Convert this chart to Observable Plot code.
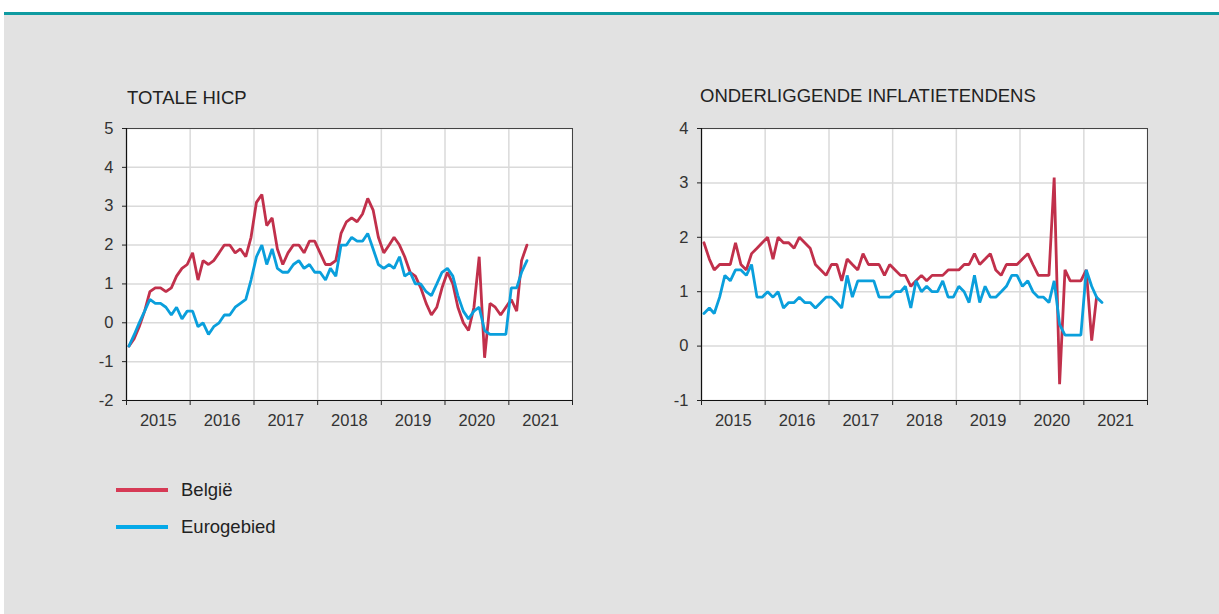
<!DOCTYPE html>
<html>
<head>
<meta charset="utf-8">
<script src="https://cdn.jsdelivr.net/npm/d3@7"></script>
<script src="https://cdn.jsdelivr.net/npm/@observablehq/plot@0.6"></script>
<style>
  html, body { margin: 0; padding: 0; background: #ffffff; width: 1219px; height: 614px; overflow: hidden; font-family: "Liberation Sans", Arial, sans-serif; }
  #panel { position: absolute; left: 4px; top: 12px; width: 1215px; height: 602px; background: #e2e2e2; border-top: 3px solid #0f9ba1; box-sizing: border-box; }
  .chart { position: absolute; }
  .title { position: absolute; font-size: 18.5px; line-height: 18px; color: #222; white-space: nowrap; }
  .leg { position: absolute; left: 116px; display: flex; align-items: center; font-size: 18.5px; color: #222; }
  .leg .sw { width: 52px; height: 4px; margin-right: 13px; }
</style>
</head>
<body>
<div id="panel"></div>
<div class="title" style="left:127px; top:89px;">TOTALE HICP</div>
<div class="title" style="left:700px; top:87px;">ONDERLIGGENDE INFLATIETENDENS</div>
<div id="left" class="chart" style="left:96px; top:118px;"></div>
<div id="right" class="chart" style="left:671px; top:118px;"></div>
<div class="leg" style="top:479px;"><div class="sw" style="background:#d63a55"></div><span>België</span></div>
<div class="leg" style="top:516px;"><div class="sw" style="background:#05a9e8"></div><span>Eurogebied</span></div>
<script>
// Monthly data, starting January 2015
const startYear = 2015;
const yearLabels = ["2015", "2016", "2017", "2018", "2019", "2020", "2021"];
const leftTicks = [-2, -1, 0, 1, 2, 3, 4, 5];
const rightTicks = [-1, 0, 1, 2, 3, 4];
const seriesNames = ["België", "Eurogebied"];

// TOTALE HICP
const belgieTotal = [
  -0.6, -0.4, -0.1, 0.3, 0.8, 0.9, 0.9, 0.8, 0.9, 1.2, 1.4, 1.5,
  1.8, 1.1, 1.6, 1.5, 1.6, 1.8, 2.0, 2.0, 1.8, 1.9, 1.7, 2.2,
  3.1, 3.3, 2.5, 2.7, 1.9, 1.5, 1.8, 2.0, 2.0, 1.8, 2.1, 2.1,
  1.8, 1.5, 1.5, 1.6, 2.3, 2.6, 2.7, 2.6, 2.8, 3.2, 2.9, 2.2,
  1.8, 2.0, 2.2, 2.0, 1.7, 1.3, 1.2, 0.9, 0.5, 0.2, 0.4, 0.9,
  1.3, 1.0, 0.4, 0.0, -0.2, 0.4, 1.7, -0.9, 0.5, 0.4, 0.2, 0.4,
  0.6, 0.3, 1.6, 2.0
];
const euroTotal = [
  -0.6, -0.3, 0.0, 0.3, 0.6, 0.5, 0.5, 0.4, 0.2, 0.4, 0.1, 0.3,
  0.3, -0.1, 0.0, -0.3, -0.1, 0.0, 0.2, 0.2, 0.4, 0.5, 0.6, 1.1,
  1.7, 2.0, 1.5, 1.9, 1.4, 1.3, 1.3, 1.5, 1.6, 1.4, 1.5, 1.3,
  1.3, 1.1, 1.4, 1.2, 2.0, 2.0, 2.2, 2.1, 2.1, 2.3, 1.9, 1.5,
  1.4, 1.5, 1.4, 1.7, 1.2, 1.3, 1.0, 1.0, 0.8, 0.7, 1.0, 1.3,
  1.4, 1.2, 0.7, 0.3, 0.1, 0.3, 0.4, -0.2, -0.3, -0.3, -0.3, -0.3,
  0.9, 0.9, 1.3, 1.6
];

// ONDERLIGGENDE INFLATIETENDENS
const belgieCore = [
  1.9, 1.6, 1.4, 1.5, 1.5, 1.5, 1.9, 1.5, 1.4, 1.7, 1.8, 1.9,
  2.0, 1.6, 2.0, 1.9, 1.9, 1.8, 2.0, 1.9, 1.8, 1.5, 1.4, 1.3,
  1.5, 1.5, 1.2, 1.6, 1.5, 1.4, 1.7, 1.5, 1.5, 1.5, 1.3, 1.5,
  1.4, 1.3, 1.3, 1.1, 1.2, 1.3, 1.2, 1.3, 1.3, 1.3, 1.4, 1.4,
  1.4, 1.5, 1.5, 1.7, 1.5, 1.6, 1.7, 1.4, 1.3, 1.5, 1.5, 1.5,
  1.6, 1.7, 1.5, 1.3, 1.3, 1.3, 3.1, -0.7, 1.4, 1.2, 1.2, 1.2,
  1.4, 0.1, 0.9
];
const euroCore = [
  0.6, 0.7, 0.6, 0.9, 1.3, 1.2, 1.4, 1.4, 1.3, 1.5, 0.9, 0.9,
  1.0, 0.9, 1.0, 0.7, 0.8, 0.8, 0.9, 0.8, 0.8, 0.7, 0.8, 0.9,
  0.9, 0.8, 0.7, 1.3, 0.9, 1.2, 1.2, 1.2, 1.2, 0.9, 0.9, 0.9,
  1.0, 1.0, 1.1, 0.7, 1.2, 1.0, 1.1, 1.0, 1.0, 1.2, 0.9, 0.9,
  1.1, 1.0, 0.8, 1.3, 0.8, 1.1, 0.9, 0.9, 1.0, 1.1, 1.3, 1.3,
  1.1, 1.2, 1.0, 0.9, 0.9, 0.8, 1.2, 0.4, 0.2, 0.2, 0.2, 0.2,
  1.4, 1.1, 0.9, 0.8
];

const RED = "#c1304b";
const BLUE = "#0a9fdc";
const monthDate = i => new Date(Date.UTC(startYear, i, 15));
const toRows = arr => arr.map((v, i) => ({date: monthDate(i), value: v}));
const boundaries = d3.range(yearLabels.length + 1).map(k => new Date(Date.UTC(startYear + k, 0, 1)));
const mids = yearLabels.map(y => new Date(Date.UTC(+y, 6, 2)));

function makeChart(bel, eur, ticks) {
  const fs = 16.5;
  return Plot.plot({
    width: 486,
    height: 312,
    marginLeft: 30,
    marginRight: 10,
    marginTop: 10,
    marginBottom: 30,
    style: {background: "transparent", fontFamily: "Liberation Sans, Arial, sans-serif", color: "#333", overflow: "visible"},
    x: {type: "utc", domain: [boundaries[0], boundaries[boundaries.length - 1]], label: null},
    y: {domain: [ticks[0], ticks[ticks.length - 1]], label: null},
    marks: [
      Plot.frame({fill: "white", stroke: null}),
      Plot.gridY(ticks, {stroke: "#dadada", strokeOpacity: 1, strokeWidth: 1.5}),
      Plot.gridX(boundaries, {stroke: "#dadada", strokeOpacity: 1, strokeWidth: 1.5}),
      Plot.line(toRows(bel), {x: "date", y: "value", stroke: RED, strokeWidth: 2.8, strokeLinejoin: "miter"}),
      Plot.line(toRows(eur), {x: "date", y: "value", stroke: BLUE, strokeWidth: 2.8, strokeLinejoin: "miter"}),
      Plot.frame({stroke: "#444", strokeWidth: 1}),
      Plot.ruleX([boundaries[0]], {stroke: "#111", strokeWidth: 1.2}),
      Plot.ruleY([ticks[0]], {stroke: "#111", strokeWidth: 1.2}),
      Plot.axisY(ticks, {tickSize: 4, tickFormat: () => "", stroke: "#222", label: null}),
      Plot.axisX(boundaries, {tickSize: 5, tickFormat: () => "", stroke: "#222", label: null}),
      Plot.text(mids, {x: d => d, frameAnchor: "bottom", dy: 20, text: (d, i) => yearLabels[i], fontSize: fs, fill: "#333", lineAnchor: "middle"}),
      Plot.text(ticks, {y: d => d, frameAnchor: "left", dx: -13, text: d => String(d), textAnchor: "end", fontSize: fs, fill: "#333", lineAnchor: "middle"})
    ]
  });
}

document.getElementById("left").appendChild(makeChart(belgieTotal, euroTotal, leftTicks));
document.getElementById("right").appendChild(makeChart(belgieCore, euroCore, rightTicks));
</script>
</body>
</html>
